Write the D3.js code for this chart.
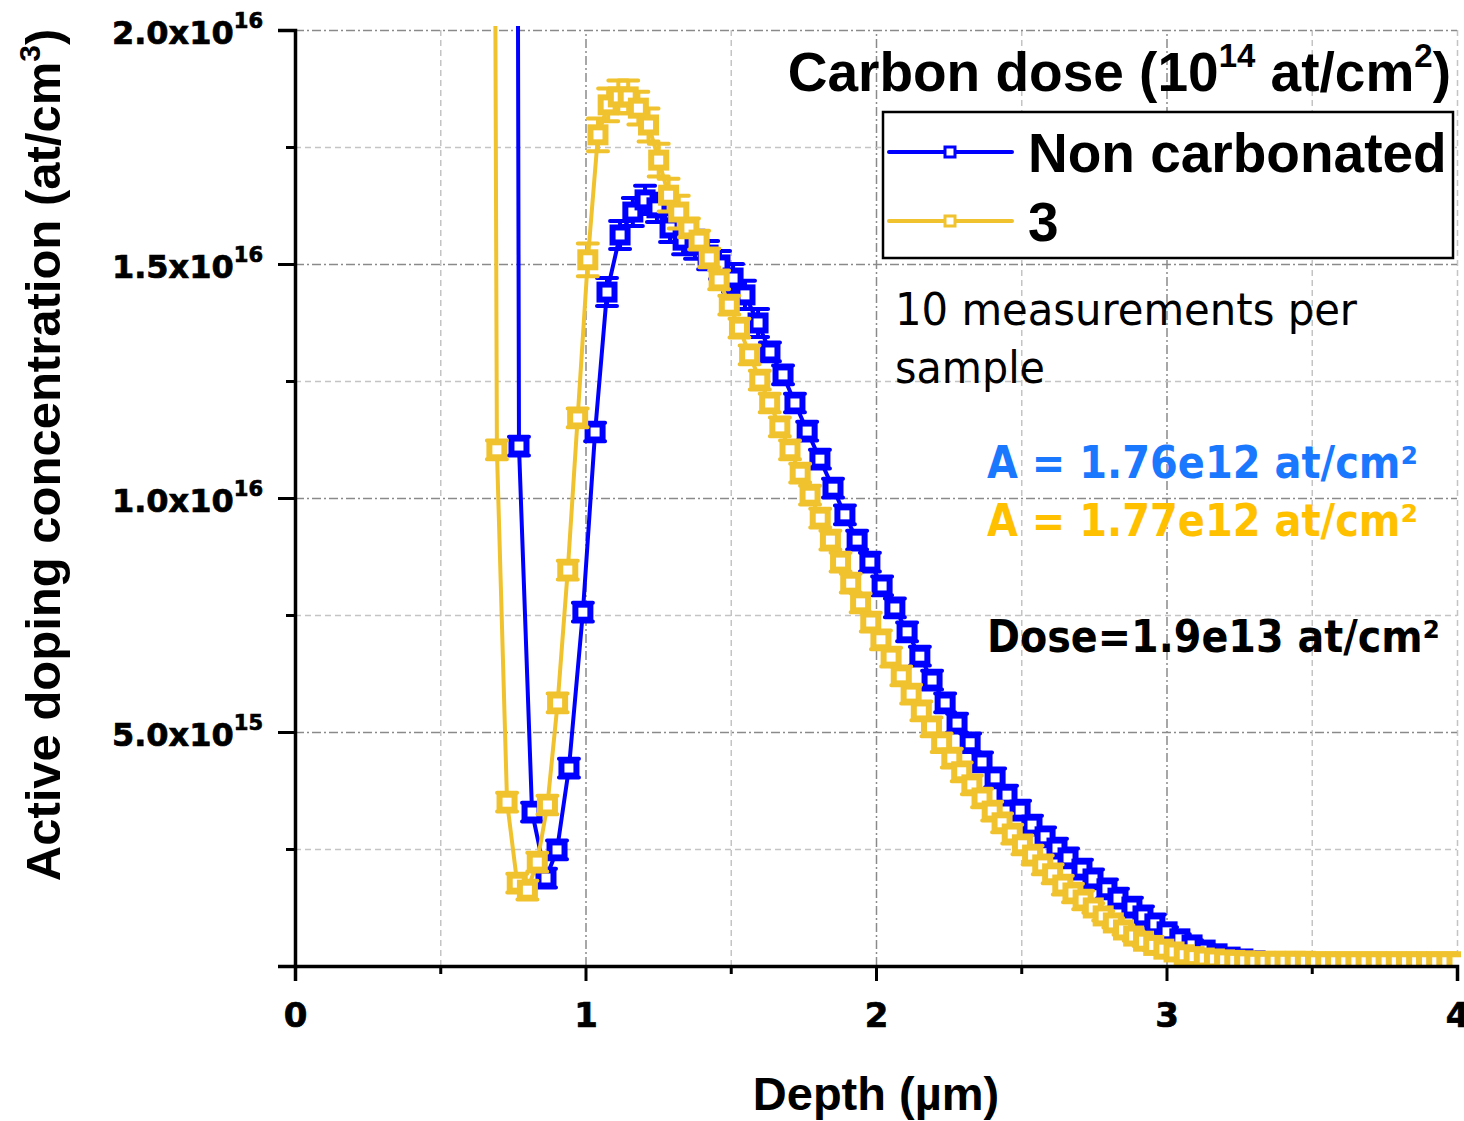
<!DOCTYPE html>
<html>
<head>
<meta charset="utf-8">
<script src="https://cdn.jsdelivr.net/npm/d3@7"></script>
<style>
body { margin: 0; background: #fff; }
svg { display: block; }
.arial { font-family: "Liberation Sans", Arial, sans-serif; font-weight: bold; }
.tick-font { font-family: "DejaVu Sans", Verdana, sans-serif; font-weight: bold; stroke: #000; stroke-width: 0.7px; }
.tahoma { font-family: "DejaVu Sans", Tahoma, sans-serif; }
</style>
</head>
<body>
<script>
// depth in um, concentration in 1e15 at/cm3
var blueDepth = [0.728, 0.771, 0.816, 0.864, 0.902, 0.943, 0.991, 1.033, 1.074, 1.119, 1.163, 1.205, 1.246, 1.291,
    1.336, 1.377, 1.422, 1.463, 1.508, 1.549, 1.594, 1.635, 1.680, 1.721, 1.763, 1.807, 1.852, 1.893, 1.935, 1.979,
    2.021, 2.065, 2.107, 2.151, 2.193, 2.238, 2.279, 2.324, 2.365, 2.410, 2.451, 2.496, 2.537, 2.582, 2.623, 2.661,
    2.709, 2.747, 2.795, 2.833, 2.881, 2.919, 2.960, 3.002, 3.046, 3.088, 3.133, 3.174, 3.219, 3.263, 3.305, 3.346,
    3.391, 3.435, 3.477, 3.522, 3.563, 3.608, 3.649, 3.690, 3.735, 3.779, 3.821, 3.866, 3.907, 3.952, 3.993];
var blueConc = [127, 11.11, 3.29, 1.88, 2.48, 4.23, 7.56, 11.41, 14.40, 15.62, 16.11, 16.37, 16.20, 15.77,
    15.51, 15.41, 15.19, 14.98, 14.70, 14.34, 13.74, 13.12, 12.63, 12.03, 11.43, 10.83, 10.21, 9.64, 9.10, 8.63,
    8.12, 7.65, 7.14, 6.62, 6.11, 5.62, 5.19, 4.77, 4.36, 4.02, 3.65, 3.33, 3.01, 2.76, 2.52, 2.31,
    2.07, 1.86, 1.65, 1.45, 1.26, 1.07, 0.90, 0.73, 0.58, 0.45, 0.34, 0.26, 0.19, 0.15, 0.11, 0.09,
    0.07, 0.06, 0.06, 0.05, 0.05, 0.05, 0.05, 0.04, 0.04, 0.04, 0.04, 0.04, 0.04, 0.04, 0.04];
var blueErr = [0, 0.2, 0.2, 0.2, 0.2, 0.2, 0.2, 0.2, 0.3, 0.3, 0.3, 0.3, 0.3, 0.3,
    0.3, 0.3, 0.3, 0.3, 0.3, 0.3, 0.3, 0.2, 0.2, 0.2, 0.2, 0.2, 0.2, 0.2, 0.2, 0.2,
    0.2, 0.2, 0.2, 0.2, 0.2, 0.2, 0.2, 0.2, 0.2, 0.2, 0.2, 0.2, 0.2, 0.2, 0.2, 0.2,
    0.2, 0.2, 0.2, 0.2, 0.2, 0.2, 0.2, 0.1, 0.1, 0.1, 0.1, 0.1, 0.1, 0.1, 0.1, 0.1,
    0.1, 0.1, 0.1, 0.1, 0.1, 0.1, 0.1, 0.1, 0.1, 0.1, 0.1, 0.1, 0.1, 0.1, 0.1];

var yellowDepth = [0.661, 0.695, 0.730, 0.765, 0.800, 0.834, 0.869, 0.904, 0.939, 0.973, 1.008, 1.043, 1.078, 1.113,
    1.147, 1.182, 1.217, 1.252, 1.286, 1.321, 1.356, 1.391, 1.426, 1.460, 1.495, 1.530, 1.565, 1.600, 1.634,
    1.669, 1.704, 1.739, 1.773, 1.808, 1.843, 1.878, 1.913, 1.947, 1.982, 2.017, 2.052, 2.087, 2.121, 2.156,
    2.191, 2.226, 2.261, 2.295, 2.330, 2.365, 2.400, 2.434, 2.469, 2.504, 2.539, 2.574, 2.608, 2.643, 2.678,
    2.713, 2.748, 2.782, 2.817, 2.852, 2.887, 2.921, 2.956, 2.991, 3.026, 3.061, 3.095, 3.130, 3.165, 3.200,
    3.235, 3.269, 3.304, 3.339, 3.374, 3.408, 3.443, 3.478, 3.513, 3.548, 3.582, 3.617, 3.652, 3.687, 3.722,
    3.756, 3.791, 3.826, 3.861, 3.895, 3.930, 3.965, 4.000];
var yellowConc = [71, 11.03, 3.50, 1.77, 1.62, 2.22, 3.44, 5.62, 8.46, 11.71, 15.09, 17.76, 18.40, 18.57,
    18.57, 18.33, 17.97, 17.22, 16.47, 16.11, 15.77, 15.51, 15.13, 14.66, 14.12, 13.63, 13.06, 12.52, 12.03,
    11.52, 11.03, 10.53, 10.06, 9.57, 9.10, 8.63, 8.18, 7.76, 7.35, 6.97, 6.60, 6.20, 5.81, 5.45,
    5.11, 4.77, 4.44, 4.15, 3.87, 3.59, 3.31, 3.06, 2.82, 2.59, 2.37, 2.16, 1.97, 1.73, 1.56,
    1.41, 1.24, 1.07, 0.92, 0.77, 0.64, 0.53, 0.44, 0.36, 0.30, 0.24, 0.20, 0.17, 0.15, 0.13,
    0.12, 0.11, 0.10, 0.10, 0.10, 0.10, 0.10, 0.10, 0.09, 0.09, 0.09, 0.09, 0.09, 0.09, 0.09,
    0.09, 0.09, 0.09, 0.09, 0.09, 0.09, 0.09, 0.09];
var yellowErr = [0, 0.2, 0.2, 0.2, 0.2, 0.2, 0.2, 0.2, 0.2, 0.2, 0.35, 0.35, 0.35, 0.35,
    0.35, 0.35, 0.35, 0.35, 0.35, 0.35, 0.2, 0.2, 0.2, 0.2, 0.2, 0.2, 0.2, 0.2, 0.2,
    0.2, 0.2, 0.2, 0.2, 0.2, 0.2, 0.2, 0.2, 0.2, 0.2, 0.2, 0.2, 0.2, 0.2, 0.2,
    0.2, 0.2, 0.2, 0.2, 0.2, 0.2, 0.2, 0.2, 0.2, 0.2, 0.2, 0.2, 0.2, 0.2, 0.2,
    0.2, 0.1, 0.1, 0.1, 0.1, 0.1, 0.1, 0.1, 0.1, 0.1, 0.1, 0.1, 0.1, 0.1, 0.1,
    0.1, 0.1, 0.1, 0.1, 0.1, 0.1, 0.1, 0.1, 0.1, 0.1, 0.1, 0.1, 0.1, 0.1, 0.1,
    0.1, 0.1, 0.1, 0.1, 0.1, 0.1, 0.1, 0.1];

var xMajor = [0, 1, 2, 3, 4];
var xMinor = [0.5, 1.5, 2.5, 3.5];
var xTickLabels = ['0', '1', '2', '3', '4'];
var yMajor = [5, 10, 15, 20];
var yMinor = [2.5, 7.5, 12.5, 17.5];
var yTickLabels = ['5.0x10', '1.0x10', '1.5x10', '2.0x10'];
var yTickExp = ['15', '16', '16', '16'];

var seriesNames = ['Non carbonated', '3'];
var seriesColors = ['#0000ff', '#f0c22d'];

var svg = d3.select('body').append('svg')
    .attr('width', 1464)
    .attr('height', 1121);

var margin = { top: 30, right: 7, bottom: 155, left: 295 },
    width = +svg.attr('width') - margin.left - margin.right,
    height = +svg.attr('height') - margin.top - margin.bottom,
    g = svg.append('g').attr('transform', 'translate(' + margin.left + ',' + margin.top + ')');

var x = d3.scaleLinear().domain([0, 4]).range([0, width]);
var y = d3.scaleLinear().domain([0, 20]).range([height, 0]);

// grid lines
function grid(axis, cls, dash, color) {
    var gg = g.append('g').attr('class', cls).call(axis);
    gg.select('.domain').remove();
    gg.selectAll('line')
        .attr('stroke', color)
        .attr('stroke-width', 1.5)
        .attr('stroke-dasharray', dash);
    return gg;
}
grid(d3.axisBottom(x).tickValues(xMinor).tickSize(-height).tickFormat(''), 'gx-minor', '6,4', '#c4c4c4')
    .attr('transform', 'translate(0,' + height + ')');
grid(d3.axisBottom(x).tickValues([1, 2, 3]).tickSize(-height).tickFormat(''), 'gx-major', '9,3,2,3', '#8a8a8a')
    .attr('transform', 'translate(0,' + height + ')');
grid(d3.axisBottom(x).tickValues([4]).tickSize(-height).tickFormat(''), 'gx-end', '6,4', '#c4c4c4')
    .attr('transform', 'translate(0,' + height + ')');
grid(d3.axisLeft(y).tickValues(yMinor).tickSize(-width).tickFormat(''), 'gy-minor', '6,4', '#c4c4c4');
grid(d3.axisLeft(y).tickValues(yMajor).tickSize(-width).tickFormat(''), 'gy-major', '9,3,2,3', '#8a8a8a');

// data
g.append('clipPath').attr('id', 'plotclip')
    .append('rect')
    .attr('x', 0).attr('y', -4)
    .attr('width', width + 4).attr('height', height + 4);

var series = [
    { name: seriesNames[0], color: seriesColors[0], depth: blueDepth, conc: blueConc, err: blueErr },
    { name: seriesNames[1], color: seriesColors[1], depth: yellowDepth, conc: yellowConc, err: yellowErr }
];

var line = d3.line()
    .x(function (d) { return x(d.x); })
    .y(function (d) { return y(d.y); });

var plot = g.append('g').attr('clip-path', 'url(#plotclip)');

series.forEach(function (s) {
    var pts = s.depth.map(function (v, i) { return { x: v, y: s.conc[i], e: s.err[i] }; });
    var sg = plot.append('g').attr('class', 'series');

    sg.append('path')
        .datum(pts)
        .attr('fill', 'none')
        .attr('stroke', s.color)
        .attr('stroke-width', 4)
        .attr('stroke-linejoin', 'round')
        .attr('d', line);

    var vis = pts.filter(function (d) { return d.y < 20.5; });

    sg.selectAll('.err')
        .data(vis)
        .enter().append('path')
        .attr('class', 'err')
        .attr('fill', 'none')
        .attr('stroke', s.color)
        .attr('stroke-width', 4)
        .attr('stroke-linecap', 'round')
        .attr('d', function (d) {
            var cx = x(d.x), y0 = y(d.y - d.e), y1 = y(d.y + d.e);
            return 'M' + cx + ',' + y0 + 'V' + y1 +
                'M' + (cx - 10) + ',' + y1 + 'H' + (cx + 10) +
                'M' + (cx - 10) + ',' + y0 + 'H' + (cx + 10);
        });

    sg.selectAll('.mk')
        .data(vis)
        .enter().append('rect')
        .attr('class', 'mk')
        .attr('x', function (d) { return x(d.x) - 7.5; })
        .attr('y', function (d) { return y(d.y) - 7.5; })
        .attr('width', 15)
        .attr('height', 15)
        .attr('fill', '#fff')
        .attr('stroke', s.color)
        .attr('stroke-width', 6);
});

// axes
var yAxis = g.append('g')
    .call(d3.axisLeft(y).tickValues(yMajor).tickSize(17).tickFormat(''));
g.append('g')
    .call(d3.axisLeft(y).tickValues(yMinor).tickSize(9).tickFormat(''))
    .select('.domain').remove();
var xAxis = g.append('g')
    .attr('transform', 'translate(0,' + height + ')')
    .call(d3.axisBottom(x).tickValues(xMajor).tickSize(15).tickFormat(''));
g.append('g')
    .attr('transform', 'translate(0,' + height + ')')
    .call(d3.axisBottom(x).tickValues(xMinor).tickSize(8).tickFormat(''))
    .select('.domain').remove();

g.selectAll('.domain').attr('stroke', '#000').attr('stroke-width', 3.5);
g.selectAll('.tick line').filter(function () { return !this.getAttribute('stroke-dasharray'); })
    .attr('stroke', '#000').attr('stroke-width', 3);

yAxis.selectAll('.tick').each(function (d, i) {
    var t = d3.select(this).append('text')
        .attr('class', 'tick-font')
        .attr('fill', '#000')
        .attr('x', -32)
        .attr('y', 13)
        .style('text-anchor', 'end')
        .style('font-size', '32px');
    t.append('tspan').text(yTickLabels[i]);
    t.append('tspan').attr('dy', -16).style('font-size', '21px').text(yTickExp[i]);
});

xAxis.selectAll('.tick').each(function (d, i) {
    d3.select(this).append('text')
        .attr('class', 'tick-font')
        .attr('fill', '#000')
        .attr('y', 61)
        .style('text-anchor', 'middle')
        .style('font-size', '34px')
        .text(xTickLabels[i]);
});

// axis titles
var ylab = svg.append('text')
    .attr('class', 'arial')
    .attr('transform', 'translate(60,455) rotate(-90)')
    .style('text-anchor', 'middle')
    .style('font-size', '49px');
ylab.append('tspan').text('Active doping concentration (at/cm');
ylab.append('tspan').attr('dy', -20).style('font-size', '30px').text('3');
ylab.append('tspan').attr('dy', 20).text(')');

svg.append('text')
    .attr('class', 'arial')
    .attr('x', 876)
    .attr('y', 1110)
    .style('text-anchor', 'middle')
    .style('font-size', '47px')
    .text('Depth (\u00b5m)');

// legend
var title = svg.append('text')
    .attr('class', 'arial')
    .attr('x', 1451)
    .attr('y', 91)
    .style('text-anchor', 'end')
    .style('font-size', '55px');
title.append('tspan').text('Carbon dose (10');
title.append('tspan').attr('dy', -24).style('font-size', '33px').text('14');
title.append('tspan').attr('dy', 24).text(' at/cm');
title.append('tspan').attr('dy', -24).style('font-size', '33px').text('2');
title.append('tspan').attr('dy', 24).text(')');

svg.append('rect')
    .attr('x', 883).attr('y', 112)
    .attr('width', 570).attr('height', 146)
    .attr('fill', '#fff')
    .attr('stroke', '#000')
    .attr('stroke-width', 2.5);

var legend = svg.append('g')
    .selectAll('g')
    .data(series)
    .enter().append('g')
    .attr('transform', function (d, i) { return 'translate(0,' + (152 + i * 69) + ')'; });

legend.append('line')
    .attr('x1', 889).attr('x2', 1012)
    .attr('stroke', function (d) { return d.color; })
    .attr('stroke-width', 4)
    .attr('stroke-linecap', 'round');

legend.append('rect')
    .attr('x', 945).attr('y', -5)
    .attr('width', 10).attr('height', 10)
    .attr('fill', '#fff')
    .attr('stroke', function (d) { return d.color; })
    .attr('stroke-width', 3);

legend.append('text')
    .attr('class', 'arial')
    .attr('x', 1028)
    .attr('y', 20)
    .style('font-size', '55px')
    .text(function (d) { return d.name; });

// annotations
svg.append('text')
    .attr('class', 'tahoma')
    .attr('x', 895).attr('y', 325)
    .attr('textLength', 462).attr('lengthAdjust', 'spacingAndGlyphs')
    .style('font-size', '44px')
    .text('10 measurements per');
svg.append('text')
    .attr('class', 'tahoma')
    .attr('x', 895).attr('y', 383)
    .attr('textLength', 150).attr('lengthAdjust', 'spacingAndGlyphs')
    .style('font-size', '44px')
    .text('sample');

var notes = [
    { text: 'A = 1.76e12 at/cm\u00b2', color: '#1a78ff', y: 478, len: 431 },
    { text: 'A = 1.77e12 at/cm\u00b2', color: '#ffc000', y: 536, len: 431 },
    { text: 'Dose=1.9e13 at/cm\u00b2', color: '#000', y: 652, len: 453 }
];
svg.selectAll('.note')
    .data(notes)
    .enter().append('text')
    .attr('class', 'note tahoma')
    .attr('x', 987)
    .attr('y', function (d) { return d.y; })
    .attr('textLength', function (d) { return d.len; })
    .attr('lengthAdjust', 'spacingAndGlyphs')
    .attr('fill', function (d) { return d.color; })
    .style('font-size', '44px')
    .style('font-weight', 'bold')
    .text(function (d) { return d.text; });
</script>
</body>
</html>
